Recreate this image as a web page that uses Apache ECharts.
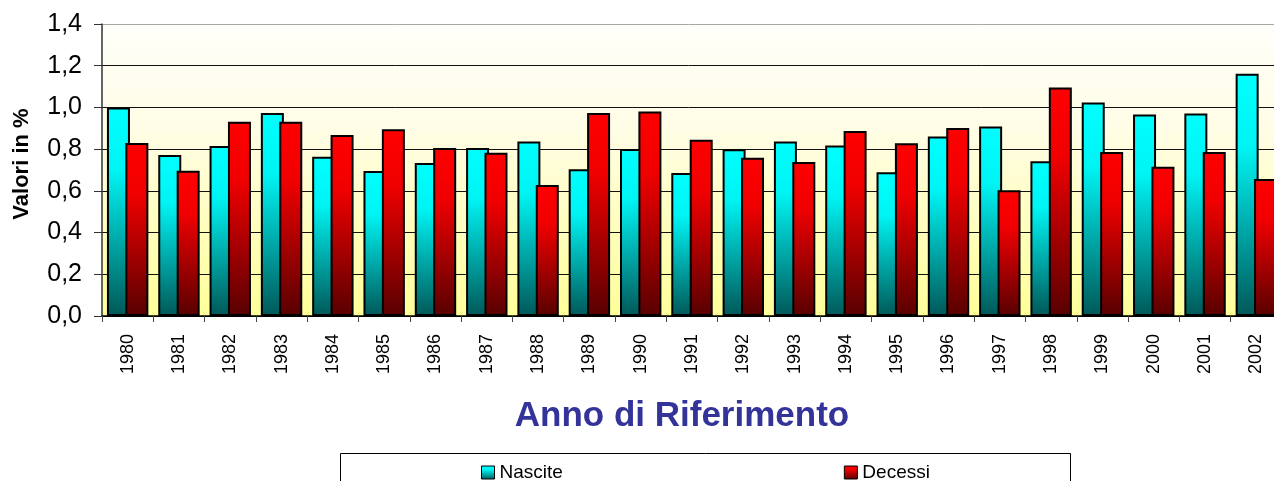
<!DOCTYPE html>
<html>
<head>
<meta charset="utf-8">
<script src="https://cdn.jsdelivr.net/npm/echarts@6/dist/echarts.min.js"></script>
<style>
html,body{margin:0;padding:0;background:#fff;}
#chart{width:1274px;height:481px;}
</style>
</head>
<body>
<div id="chart"></div>
<script>
const years = ['1980','1981','1982','1983','1984','1985','1986','1987','1988','1989','1990','1991','1992','1993','1994','1995','1996','1997','1998','1999','2000','2001','2002'];
const nascite = [1.00,0.772,0.815,0.973,0.764,0.695,0.734,0.805,0.837,0.703,0.801,0.686,0.799,0.837,0.817,0.689,0.861,0.909,0.742,1.024,0.966,0.971,1.161];
const decessi = [0.829,0.697,0.931,0.931,0.868,0.895,0.805,0.783,0.628,0.973,0.981,0.845,0.759,0.738,0.887,0.828,0.901,0.603,1.096,0.786,0.716,0.786,0.657];
const yTickLabels = ['0,0','0,2','0,4','0,6','0,8','1,0','1,2','1,4'];
const seriesNames = ['Nascite','Decessi'];
const yAxisTitle = 'Valori in %';
const xAxisTitle = 'Anno di Riferimento';

const font = 'Arial, "Liberation Sans", sans-serif';
const chart = echarts.init(document.getElementById('chart'), null, {renderer:'canvas'});

function grad(top, mid, bottom){
  return new echarts.graphic.LinearGradient(0,0,0,1,[
    {offset:0,color:top},{offset:0.3,color:mid},{offset:1,color:bottom}
  ]);
}

chart.setOption({
  animation:false,
  backgroundColor:'#ffffff',
  grid:{
    left:102, right:-8, top:24, bottom:165,
    containLabel:false,
    outerBoundsMode:'none',
    show:true,
    borderWidth:0,
    backgroundColor:new echarts.graphic.LinearGradient(0,0,0,1,[
      {offset:0,color:'#FFFFFA'},{offset:0.35,color:'#FFFDE6'},{offset:1,color:'#FFFF99'}
    ])
  },
  legend:{
    left:481, top:463,
    padding:0,
    icon:'rect',
    itemWidth:13, itemHeight:13,
    itemGap:281,
    itemStyle:{borderColor:'#000',borderWidth:1},
    textStyle:{fontFamily:font,fontSize:19,color:'#000'},
    data:seriesNames
  },
  graphic:[
    {type:'rect',shape:{x:340.5,y:453.5,width:730,height:40},style:{fill:'#fff',stroke:'#000',lineWidth:1},z:-1},
    {type:'text',x:682,y:434,style:{text:xAxisTitle,font:'bold 35px '+font,fill:'#333399',textAlign:'center',textVerticalAlign:'bottom'}},
    {type:'text',x:22,y:164,rotation:Math.PI/2,style:{text:yAxisTitle,font:'bold 22px '+font,fill:'#000',textAlign:'center',textVerticalAlign:'middle'}}
  ],
  xAxis:{
    type:'category',
    data:years,
    axisLine:{lineStyle:{color:'#000',width:1.5}},
    axisTick:{show:true,length:6,lineStyle:{color:'#444'}},
    axisLabel:{rotate:90,margin:18,fontFamily:font,fontSize:18,color:'#000'}
  },
  yAxis:{
    type:'value',
    min:0,max:1.4,interval:0.2,
    axisLine:{show:true,lineStyle:{color:'#333',width:1.5}},
    axisTick:{show:true,length:8,lineStyle:{color:'#333'}},
    axisLabel:{margin:20,fontFamily:font,fontSize:25,color:'#000',
      formatter:(v)=>yTickLabels[Math.round(v/0.2)]},
    splitLine:{show:true,lineStyle:{color:['#000','#111','#111','#111','#111','#111','#111','#A8A8A8'],width:1}}
  },
  series:[
    {
      name:seriesNames[0],type:'bar',data:nascite,
      barWidth:23,barGap:'-20%',barCategoryGap:'19%',
      itemStyle:{color:grad('#00FFFF','#00F4F4','#005858'),borderColor:'#000',borderWidth:2}
    },
    {
      name:seriesNames[1],type:'bar',data:decessi,
      barWidth:23,barGap:'-20%',barCategoryGap:'19%',
      itemStyle:{color:grad('#FF0000','#F00000','#580000'),borderColor:'#000',borderWidth:2}
    }
  ]
});
</script>
</body>
</html>
